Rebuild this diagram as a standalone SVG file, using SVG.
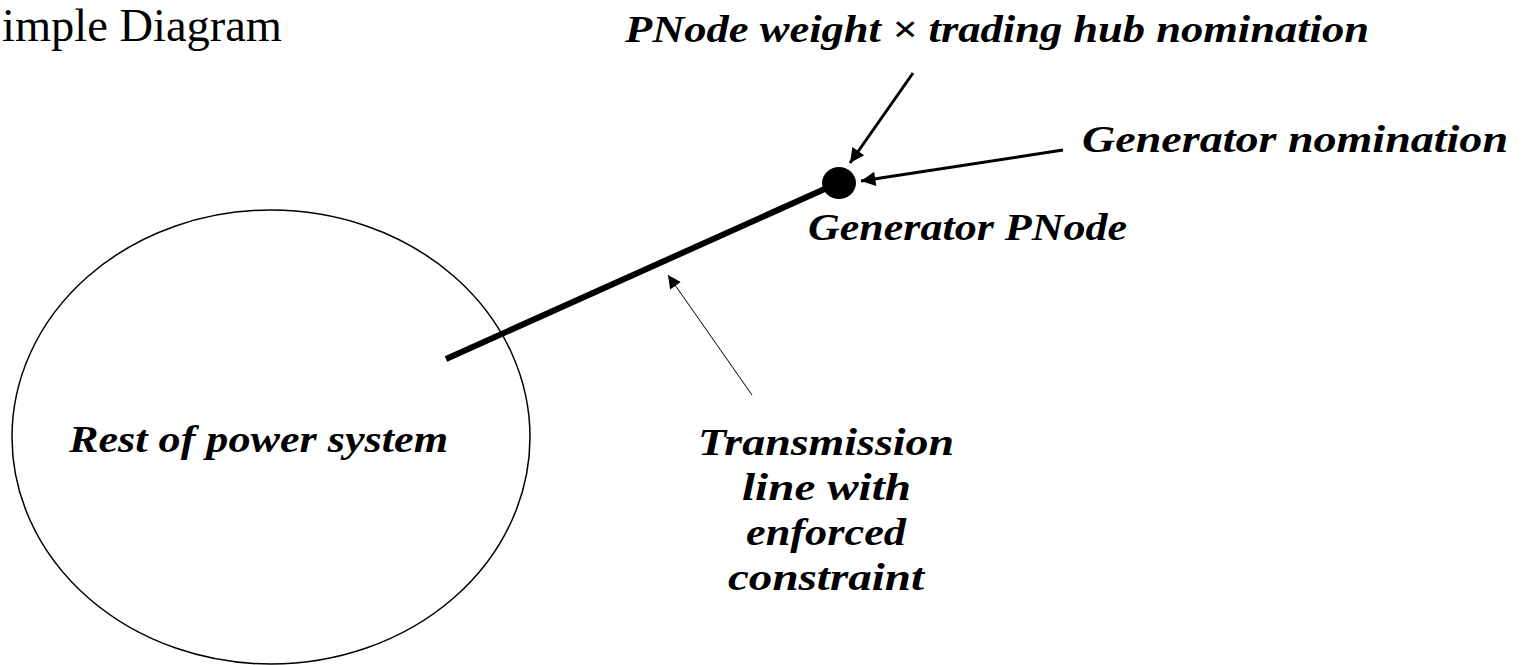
<svg xmlns="http://www.w3.org/2000/svg" width="1527" height="665" viewBox="0 0 1527 665">
  <defs>
    <style>
      .lbl { font-family: "Liberation Serif", "DejaVu Serif", serif; font-style: italic; font-weight: bold; font-size: 38px; fill: #000; }
      .title { font-family: "Liberation Serif", "DejaVu Serif", serif; font-size: 46px; fill: #000; }
      .ptr { stroke: #000; stroke-width: 3; fill: none; }
      .thin { stroke: #000; stroke-width: 1; fill: none; }
    </style>
    <marker id="head" viewBox="0 0 10 10" refX="10" refY="5" markerWidth="6" markerHeight="4.8" orient="auto" markerUnits="strokeWidth">
      <path d="M0,0 L10,5 L0,10 Z" fill="#000"/>
    </marker>
    <marker id="headThin" viewBox="0 0 10 10" refX="10" refY="5" markerWidth="15" markerHeight="13" orient="auto" markerUnits="strokeWidth">
      <path d="M0,0 L10,5 L0,10 Z" fill="#000"/>
    </marker>
  </defs>
  <rect width="1527" height="665" fill="#fff"/>

  <text class="title" x="2" y="41" textLength="280" lengthAdjust="spacingAndGlyphs">imple Diagram</text>

  <g id="system">
    <ellipse cx="271" cy="437" rx="259" ry="227" fill="none" stroke="#000" stroke-width="1.5"/>
    <text class="lbl" x="69" y="452" textLength="379" lengthAdjust="spacingAndGlyphs">Rest of power system</text>
  </g>

  <g id="connectors">
    <!-- transmission line into the generator bus -->
    <line x1="446" y1="359" x2="838" y2="183" stroke="#000" stroke-width="6"/>
    <!-- nomination pointers -->
    <line class="ptr" x1="913" y1="73" x2="850" y2="163" marker-end="url(#head)"/>
    <line class="ptr" x1="1063" y1="150" x2="861" y2="181" marker-end="url(#head)"/>
    <!-- constraint pointer -->
    <line class="thin" x1="752" y1="395" x2="668" y2="275" marker-end="url(#headThin)"/>
  </g>

  <g id="pnode">
    <ellipse cx="839" cy="183" rx="17" ry="16" fill="#000"/>
    <text class="lbl" x="808" y="240" textLength="319" lengthAdjust="spacingAndGlyphs">Generator PNode</text>
  </g>

  <g id="hub-nomination">
    <text class="lbl" x="625" y="42" textLength="744" lengthAdjust="spacingAndGlyphs">PNode weight × trading hub nomination</text>
  </g>

  <g id="gen-nomination">
    <text class="lbl" x="1082" y="152" textLength="426" lengthAdjust="spacingAndGlyphs">Generator nomination</text>
  </g>

  <g id="line-label">
    <text class="lbl" x="698" y="455" textLength="256" lengthAdjust="spacingAndGlyphs">Transmission</text>
    <text class="lbl" x="742" y="500" textLength="169" lengthAdjust="spacingAndGlyphs">line with</text>
    <text class="lbl" x="746" y="545" textLength="160" lengthAdjust="spacingAndGlyphs">enforced</text>
    <text class="lbl" x="728" y="590" textLength="196" lengthAdjust="spacingAndGlyphs">constraint</text>
  </g>
</svg>
